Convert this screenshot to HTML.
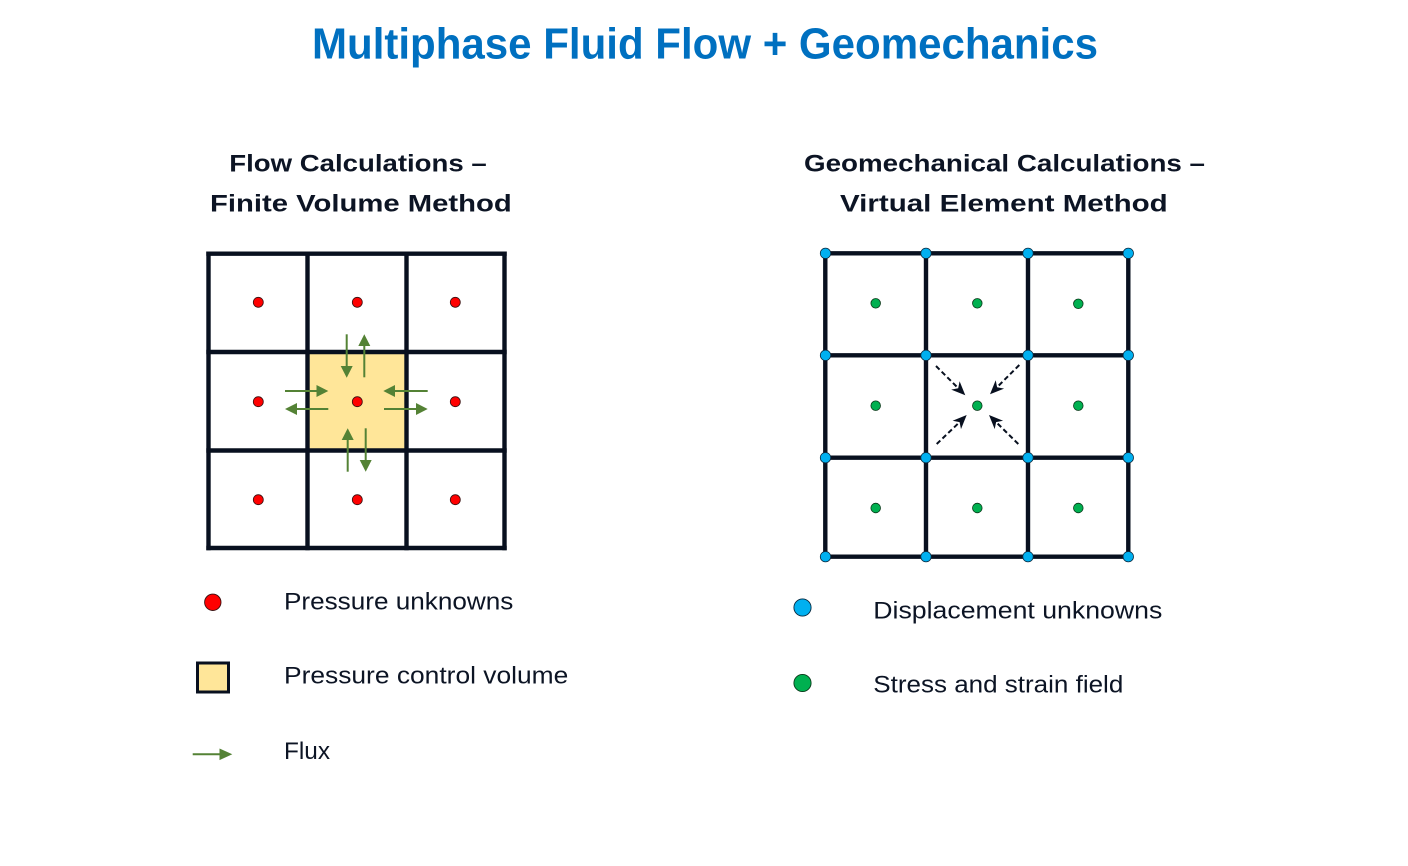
<!DOCTYPE html>
<html>
<head>
<meta charset="utf-8">
<style>
  html,body{margin:0;padding:0;background:#fff;}
  svg{display:block;}
  text{font-family:"Liberation Sans",Arial,sans-serif;}
</style>
</head>
<body>
<svg width="1408" height="866" viewBox="0 0 1408 866" xmlns="http://www.w3.org/2000/svg">
  <rect x="0" y="0" width="1408" height="866" fill="#ffffff"/>

  <!-- Title -->
  <text x="312" y="58.5" font-size="44" font-weight="bold" fill="#0070C0" textLength="786" lengthAdjust="spacingAndGlyphs">Multiphase Fluid Flow + Geomechanics</text>

  <!-- Left headings -->
  <text x="229.3" y="171.7" font-size="24" font-weight="bold" fill="#0c1424" textLength="257.4" lengthAdjust="spacingAndGlyphs">Flow Calculations –</text>
  <text x="210" y="211.7" font-size="24" font-weight="bold" fill="#0c1424" textLength="301.7" lengthAdjust="spacingAndGlyphs">Finite Volume Method</text>

  <!-- Right headings -->
  <text x="804" y="171.7" font-size="24" font-weight="bold" fill="#0c1424" textLength="401" lengthAdjust="spacingAndGlyphs">Geomechanical Calculations –</text>
  <text x="840" y="211.7" font-size="24" font-weight="bold" fill="#0c1424" textLength="327.7" lengthAdjust="spacingAndGlyphs">Virtual Element Method</text>

  <!-- LEFT GRID -->
  <rect x="307.5" y="352" width="99" height="98.5" fill="#FFE699"/>
  <g stroke="#08101f" stroke-width="4.4" fill="none" stroke-linecap="square">
    <line x1="208.5" y1="253.7" x2="504.5" y2="253.7"/>
    <line x1="208.5" y1="352" x2="504.5" y2="352"/>
    <line x1="208.5" y1="450.5" x2="504.5" y2="450.5"/>
    <line x1="208.5" y1="548" x2="504.5" y2="548"/>
    <line x1="208.5" y1="253.7" x2="208.5" y2="548"/>
    <line x1="307.5" y1="253.7" x2="307.5" y2="548"/>
    <line x1="406.5" y1="253.7" x2="406.5" y2="548"/>
    <line x1="504.5" y1="253.7" x2="504.5" y2="548"/>
  </g>
  <g fill="#FF0000" stroke="#3a1010" stroke-width="0.8">
    <circle cx="258.3" cy="302.3" r="5"/>
    <circle cx="357.3" cy="302.3" r="5"/>
    <circle cx="455.3" cy="302.3" r="5"/>
    <circle cx="258.3" cy="401.7" r="5"/>
    <circle cx="357.3" cy="401.7" r="5"/>
    <circle cx="455.3" cy="401.7" r="5"/>
    <circle cx="258.3" cy="499.7" r="5"/>
    <circle cx="357.3" cy="499.7" r="5"/>
    <circle cx="455.3" cy="499.7" r="5"/>
  </g>
  <!-- green flux arrows -->
  <g stroke="#548235" stroke-width="2" fill="none">
    <line x1="346.7" y1="334.3" x2="346.7" y2="366"/>
    <line x1="364.3" y1="377.3" x2="364.3" y2="346"/>
    <line x1="285" y1="391" x2="316.5" y2="391"/>
    <line x1="328.3" y1="409" x2="297" y2="409"/>
    <line x1="427.7" y1="391" x2="395" y2="391"/>
    <line x1="384" y1="409" x2="416" y2="409"/>
    <line x1="347.7" y1="471.7" x2="347.7" y2="440"/>
    <line x1="365.7" y1="428.3" x2="365.7" y2="460"/>
  </g>
  <g fill="#548235">
    <polygon points="340.7,366 352.7,366 346.7,377.7"/>
    <polygon points="358.3,346 370.3,346 364.3,334.3"/>
    <polygon points="316.5,385 316.5,397 328.3,391"/>
    <polygon points="297,403 297,415 285,409"/>
    <polygon points="395,385 395,397 383.3,391"/>
    <polygon points="416,403 416,415 427.7,409"/>
    <polygon points="341.7,440 353.7,440 347.7,428.3"/>
    <polygon points="359.7,460 371.7,460 365.7,471.7"/>
  </g>

  <!-- RIGHT GRID -->
  <g stroke="#08101f" stroke-width="4.4" fill="none" stroke-linecap="square">
    <line x1="825.3" y1="253.3" x2="1128.3" y2="253.3"/>
    <line x1="825.3" y1="355.3" x2="1128.3" y2="355.3"/>
    <line x1="825.3" y1="457.7" x2="1128.3" y2="457.7"/>
    <line x1="825.3" y1="556.7" x2="1128.3" y2="556.7"/>
    <line x1="825.3" y1="253.3" x2="825.3" y2="556.7"/>
    <line x1="926" y1="253.3" x2="926" y2="556.7"/>
    <line x1="1028" y1="253.3" x2="1028" y2="556.7"/>
    <line x1="1128.3" y1="253.3" x2="1128.3" y2="556.7"/>
  </g>
  <!-- dashed arrows -->
  <g stroke="#08101f" stroke-width="2" fill="none" stroke-dasharray="5 3">
    <line x1="936" y1="366" x2="958.2" y2="388.2"/>
    <line x1="1019.3" y1="365" x2="997.1" y2="387.2"/>
    <line x1="936.7" y1="444" x2="959.6" y2="422.1"/>
    <line x1="1018.3" y1="444" x2="996.1" y2="422.1"/>
  </g>
  <g fill="#08101f">
    <polygon points="965.3,395.3 951.2,389.6 958.2,388.2 959.6,381.2"/>
    <polygon points="990,394.3 1004.1,388.6 997.1,387.2 995.7,380.2"/>
    <polygon points="966.7,415 961,429.1 959.6,422.1 952.6,420.7"/>
    <polygon points="989,415 1003.1,420.7 996.1,422.1 994.7,429.1"/>
  </g>
  <g fill="#00B050" stroke="#0a3a1a" stroke-width="0.8">
    <circle cx="875.7" cy="303.3" r="4.8"/>
    <circle cx="977.3" cy="303.3" r="4.8"/>
    <circle cx="1078.3" cy="303.8" r="4.8"/>
    <circle cx="875.7" cy="405.7" r="4.8"/>
    <circle cx="977.3" cy="405.7" r="4.8"/>
    <circle cx="1078.3" cy="405.7" r="4.8"/>
    <circle cx="875.7" cy="508" r="4.8"/>
    <circle cx="977.3" cy="508" r="4.8"/>
    <circle cx="1078.3" cy="508" r="4.8"/>
  </g>
  <g fill="#00B0F0" stroke="#0a2a40" stroke-width="0.8">
    <circle cx="825.5" cy="253.3" r="5.2"/>
    <circle cx="926" cy="253.3" r="5.2"/>
    <circle cx="1028" cy="253.3" r="5.2"/>
    <circle cx="1128.3" cy="253.3" r="5.2"/>
    <circle cx="825.5" cy="355.3" r="5.2"/>
    <circle cx="926" cy="355.3" r="5.2"/>
    <circle cx="1028" cy="355.3" r="5.2"/>
    <circle cx="1128.3" cy="355.3" r="5.2"/>
    <circle cx="825.5" cy="457.7" r="5.2"/>
    <circle cx="926" cy="457.7" r="5.2"/>
    <circle cx="1028" cy="457.7" r="5.2"/>
    <circle cx="1128.3" cy="457.7" r="5.2"/>
    <circle cx="825.5" cy="556.7" r="5.2"/>
    <circle cx="926" cy="556.7" r="5.2"/>
    <circle cx="1028" cy="556.7" r="5.2"/>
    <circle cx="1128.3" cy="556.7" r="5.2"/>
  </g>

  <!-- LEFT LEGEND -->
  <circle cx="212.8" cy="602.3" r="8.2" fill="#FF0000" stroke="#3a1010" stroke-width="0.9"/>
  <text x="284" y="609.3" font-size="24" fill="#0c1424" textLength="229.3" lengthAdjust="spacingAndGlyphs">Pressure unknowns</text>

  <rect x="197.5" y="663" width="31" height="29" fill="#FFE699" stroke="#08101f" stroke-width="3"/>
  <text x="284" y="683.3" font-size="24" fill="#0c1424" textLength="284.3" lengthAdjust="spacingAndGlyphs">Pressure control volume</text>

  <line x1="192.7" y1="754.3" x2="221" y2="754.3" stroke="#548235" stroke-width="2"/>
  <polygon points="219.5,748.5 219.5,760.1 232.3,754.3" fill="#548235"/>
  <text x="284" y="759" font-size="24" fill="#0c1424" textLength="46" lengthAdjust="spacingAndGlyphs">Flux</text>

  <!-- RIGHT LEGEND -->
  <circle cx="802.5" cy="607.5" r="8.6" fill="#00B0F0" stroke="#0a2a40" stroke-width="0.9"/>
  <text x="873.3" y="618.3" font-size="24" fill="#0c1424" textLength="289" lengthAdjust="spacingAndGlyphs">Displacement unknowns</text>

  <circle cx="802.5" cy="683" r="8.6" fill="#00B050" stroke="#0a3a1a" stroke-width="0.9"/>
  <text x="873.3" y="692.3" font-size="24" fill="#0c1424" textLength="250" lengthAdjust="spacingAndGlyphs">Stress and strain field</text>
</svg>
</body>
</html>
